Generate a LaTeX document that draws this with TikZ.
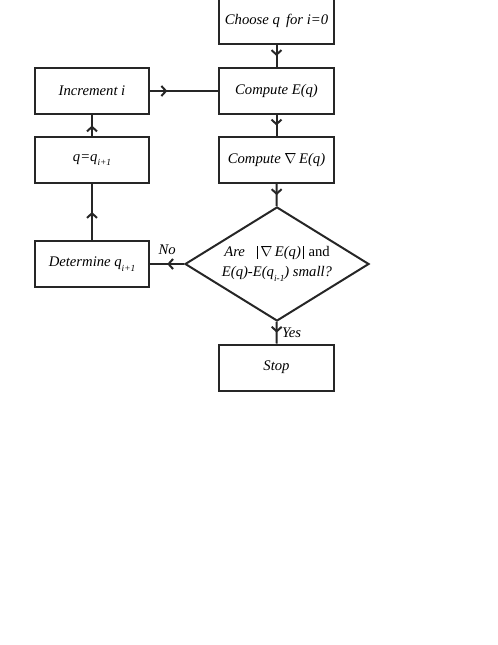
\documentclass[tikz,border=0pt]{standalone}
\usepackage{fontspec}
\setmainfont{Liberation Serif}
\usetikzlibrary{shapes.geometric,arrows.meta,decorations.markings}
\newcommand\lowsub[1]{\raisebox{-0.7ex}{\scriptsize #1}}
\newcommand\normbar{\rule[-1.5pt]{0.8pt}{9.5pt}}
\tikzset{
  ink/.style={draw=black!85,line width=1.5pt},
  box/.style={ink,rectangle,minimum width=86pt,minimum height=34.5pt,inner sep=0pt,font=\fontsize{11}{13}\selectfont\itshape},
  decision/.style={ink,diamond,aspect=1.6,minimum width=138pt,minimum height=85.5pt,inner sep=0pt,align=center,font=\fontsize{11}{14}\selectfont},
  flow/.style={ink,decoration={markings,mark=at position #1 with {\arrow{Straight Barb[length=3.4pt,width=7.5pt,line width=1.5pt]}}},postaction={decorate}},
  flow/.default=0.5,
  tag/.style={font=\fontsize{11}{13}\selectfont\itshape}
}
\begin{document}
\begin{tikzpicture}[x=0.75pt,y=-0.75pt]
    \useasboundingbox (0,0) rectangle (498,645);
    % main column
    \node[box] (choose) at (276.5,21) {Choose q\, for i=0};
    \node[box] (energy) at (276.5,91) {Compute E(q)};
    \node[box] (grad) at (276.5,160) {Compute $\nabla$\,E(q)};
    \node[decision] (check) at (277,264) {\textit{Are}\;\; \normbar\,$\nabla$\,\textit{E(q)}\,\normbar\;and\\[1pt] \textit{E(q)-E(q\lowsub{i-1}) small?}};
    \node[box] (stop) at (276.5,367.5) {Stop};
    % loop column
    \node[box] (incr) at (92,91) {Increment i};
    \node[box] (update) at (92,160) {q=q\lowsub{i+1}};
    \node[box] (next) at (92,264) {Determine q\lowsub{i+1}};
    % connectors
    \draw[flow] (choose) -- (energy);
    \draw[flow] (energy) -- (grad);
    \draw[flow] (grad) -- (check);
    \draw[flow] (check) -- (stop) node[tag,pos=0.5,right=0pt] {Yes};
    \draw[flow] (check) -- (next) node[tag,pos=0.5,above=3pt] {No};
    \draw[flow] (next) -- (update);
    \draw[flow] (update) -- (incr);
    \draw[flow=0.25] (incr) -- (energy);
\end{tikzpicture}
\end{document}
